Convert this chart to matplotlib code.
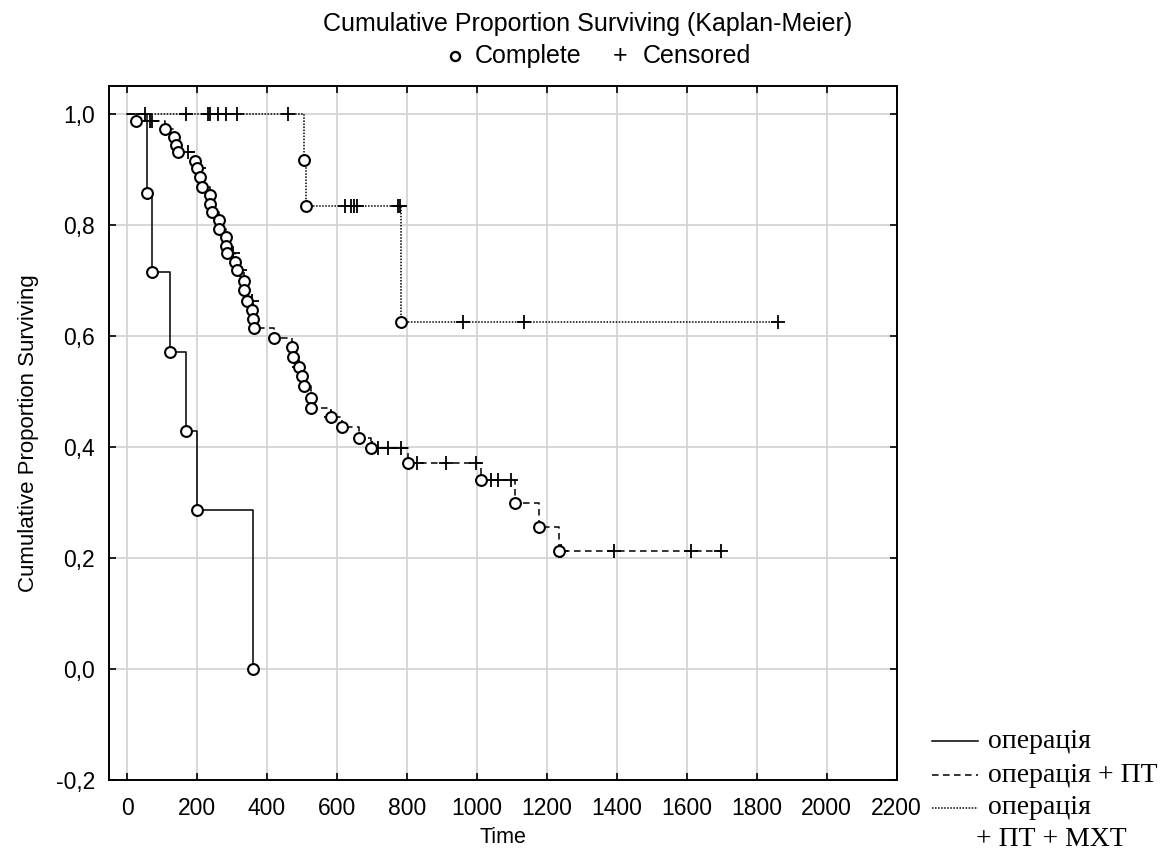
import matplotlib
matplotlib.use("Agg")
import matplotlib.pyplot as plt
from matplotlib.lines import Line2D
from matplotlib.ticker import FuncFormatter, MultipleLocator

# group 1: операція
g1_death_t = [57, 71, 122, 169, 200, 360]
g1_death_s = [0.857, 0.714, 0.571, 0.429, 0.286, 0.0]
g1_cens_t = []
g1_cens_s = []

# group 2: операція + ПТ
g2_death_t = [26, 109, 133, 139, 144, 195, 200, 208, 215, 236, 237, 242, 262, 263,
              282, 283, 285, 308, 315, 334, 335, 342, 356, 361, 364, 419, 470, 473,
              492, 499, 507, 526, 527, 583, 613, 664, 698, 802, 1013, 1109, 1177, 1236]
g2_death_s = [0.986, 0.972, 0.958, 0.944, 0.930, 0.915, 0.901, 0.886, 0.868, 0.853,
              0.837, 0.822, 0.808, 0.792, 0.777, 0.762, 0.748, 0.732, 0.718, 0.699,
              0.682, 0.663, 0.646, 0.630, 0.614, 0.596, 0.579, 0.561, 0.544, 0.527,
              0.509, 0.488, 0.470, 0.453, 0.435, 0.416, 0.397, 0.370, 0.341, 0.298,
              0.255, 0.213]
g2_cens_t = [65, 70, 174, 205, 303, 322, 356, 492, 583, 700, 716, 745, 783, 830, 911,
             997, 1040, 1059, 1097, 1240, 1391, 1613, 1699]
g2_cens_s = [0.986, 0.986, 0.930, 0.901, 0.748, 0.718, 0.663, 0.544, 0.453, 0.397,
             0.397, 0.397, 0.397, 0.370, 0.370, 0.370, 0.341, 0.341, 0.341, 0.213,
             0.213, 0.213, 0.213]

# group 3: операція + ПТ + МХТ
g3_death_t = [506, 510, 783]
g3_death_s = [0.917, 0.833, 0.625]
g3_cens_t = [50, 167, 232, 236, 260, 282, 315, 461, 623, 640, 648, 657, 775, 780,
             961, 1134, 1861]
g3_cens_s = [1.0, 1.0, 1.0, 1.0, 1.0, 1.0, 1.0, 1.0, 0.833, 0.833, 0.833, 0.833,
             0.833, 0.833, 0.625, 0.625, 0.625]

labels = ["операція", "операція + ПТ", "операція\n+ ПТ + МХТ"]

y_ticks = [-0.2, 0.0, 0.2, 0.4, 0.6, 0.8, 1.0]

sans = "Liberation Sans"
serif = "Liberation Serif"

fig = plt.figure(figsize=(11.69, 8.6), dpi=100)
ax = fig.add_axes([0.0932, 0.0930, 0.6738, 0.8073])

styles = [dict(linestyle="-"), dict(dashes=(4.3, 2.9)), dict(dashes=(1.0, 1.0))]
groups = [(g1_death_t, g1_death_s, g1_cens_t, g1_cens_s),
          (g2_death_t, g2_death_s, g2_cens_t, g2_cens_s),
          (g3_death_t, g3_death_s, g3_cens_t, g3_cens_s)]

for (dt, ds, ct, cs), st in zip(groups, styles):
    pts = sorted(list(zip(dt, ds)) + list(zip(ct, cs)))
    xs = [0] + [p[0] for p in pts]
    ys = [1.0] + [p[1] for p in pts]
    ax.plot(xs, ys, drawstyle="steps-post", color="black", lw=1.1, zorder=3, **st)
    ax.plot(ct, cs, linestyle="none", marker="+", ms=10, mew=1.3, color="black", zorder=4)
    ax.plot(dt, ds, linestyle="none", marker="o", ms=7.8, mew=1.5, mfc="white",
            mec="black", zorder=5)

ax.set_xlim(-52, 2200)
ax.set_ylim(-0.2, 1.05)
ax.xaxis.set_major_locator(MultipleLocator(200))
ax.set_yticks(y_ticks)
ax.yaxis.set_major_formatter(FuncFormatter(lambda v, p: f"{v:.1f}".replace(".", ",")))
ax.grid(True, color="#d4d4d4", lw=1.3)
ax.set_axisbelow(True)
for sp in ax.spines.values():
    sp.set_linewidth(1.4)
ax.tick_params(direction="in", length=5, width=1.2, top=True, right=True, labelsize=16.5)
ax.tick_params(axis="y", pad=10)
ax.tick_params(axis="x", pad=12)
for t in ax.get_xticklabels() + ax.get_yticklabels():
    t.set_fontfamily(sans)
ax.set_xlabel("Time", fontsize=15.5, fontfamily=sans, labelpad=5)
ax.set_ylabel("Cumulative Proportion Surviving", fontsize=16, fontfamily=sans, labelpad=12)

# title
fig.text(588 / 1169, 1 - 24 / 860, "Cumulative Proportion Surviving (Kaplan-Meier)",
         ha="center", va="center", fontsize=18, fontfamily=sans)
fig.add_artist(Line2D([455 / 1169], [1 - 56 / 860], marker="o", ms=6.5, mew=1.7, mfc="white",
                      mec="black", transform=fig.transFigure))
fig.text(475 / 1169, 1 - 56 / 860, "Complete", ha="left", va="center", fontsize=18, fontfamily=sans)
fig.text(620 / 1169, 1 - 56 / 860, "+", ha="center", va="center", fontsize=18, fontfamily=sans)
fig.text(643 / 1169, 1 - 56 / 860, "Censored", ha="left", va="center", fontsize=18, fontfamily=sans)

# legend drawn by hand at lower right
leg_y = [741, 775, 808]
for yy, st in zip(leg_y, styles):
    fig.add_artist(Line2D([932 / 1169, 978 / 1169], [1 - yy / 860] * 2, color="black", lw=1.1,
                          transform=fig.transFigure, **st))
fig.text(988 / 1169, 1 - 741 / 860, labels[0], ha="left", va="center", fontsize=20, fontfamily=serif)
fig.text(988 / 1169, 1 - 775 / 860, labels[1], ha="left", va="center", fontsize=20, fontfamily=serif)
l3a, l3b = labels[2].split("\n")
fig.text(988 / 1169, 1 - 808 / 860, l3a, ha="left", va="center", fontsize=20, fontfamily=serif)
fig.text(976 / 1169, 1 - 840 / 860, l3b, ha="left", va="center", fontsize=20, fontfamily=serif)

fig.savefig("out.png", dpi=100, facecolor="white")
